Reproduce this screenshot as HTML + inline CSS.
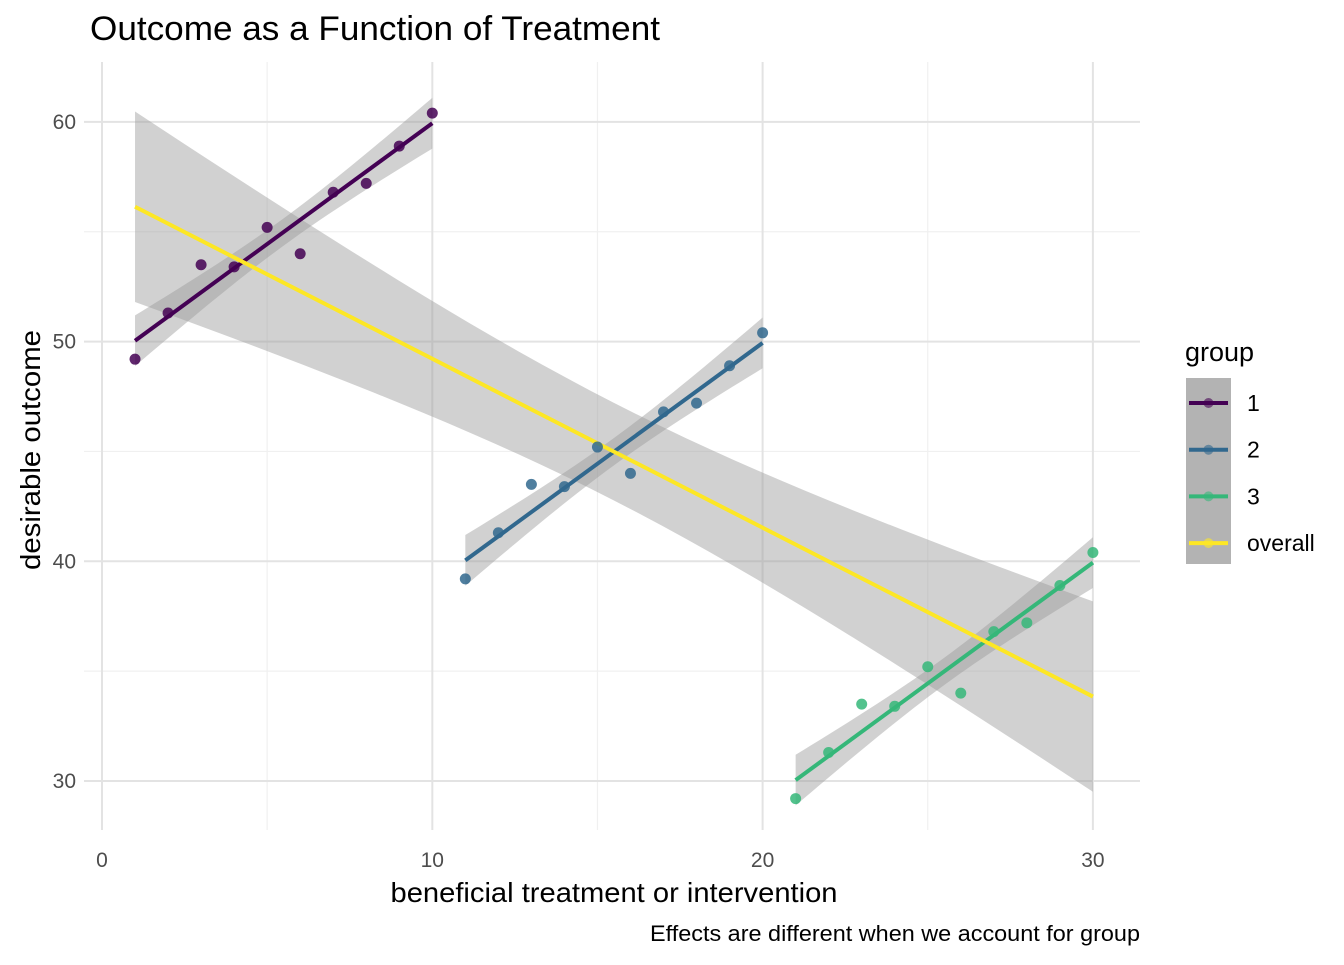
<!DOCTYPE html>
<html><head><meta charset="utf-8"><style>
html,body{margin:0;padding:0;background:#fff;}
svg text{font-family:"Liberation Sans",Arial,sans-serif;}
</style></head><body>
<svg id="chart" width="1344" height="960" xmlns="http://www.w3.org/2000/svg">
<text x="90" y="40" font-size="34" fill="#000" textLength="570" lengthAdjust="spacingAndGlyphs">Outcome as a Function of Treatment</text>
<g id="grid"></g><g id="ribbons"></g><g id="lines"></g><g id="points"></g><g id="axes"></g>
<text x="614" y="902" font-size="28" text-anchor="middle" fill="#000" textLength="447" lengthAdjust="spacingAndGlyphs">beneficial treatment or intervention</text>
<text transform="translate(40,450) rotate(-90)" font-size="28" text-anchor="middle" fill="#000" textLength="240" lengthAdjust="spacingAndGlyphs">desirable outcome</text>
<text x="1140" y="941" font-size="22" text-anchor="end" fill="#000" textLength="490" lengthAdjust="spacingAndGlyphs">Effects are different when we account for group</text>
<g id="legend"></g>
</svg>
<script>
const xs1=[1,2,3,4,5,6,7,8,9,10];
const ys1=[49.2,51.3,53.5,53.4,55.2,54.0,56.8,57.2,58.9,60.4];
const xs2=[11,12,13,14,15,16,17,18,19,20];
const ys2=[39.2,41.3,43.5,43.4,45.2,44.0,46.8,47.2,48.9,50.4];
const xs3=[21,22,23,24,25,26,27,28,29,30];
const ys3=[29.2,31.3,33.5,33.4,35.2,34.0,36.8,37.2,38.9,40.4];
const groupNames=["1","2","3","overall"];
const groupColors=["#440154","#31688e","#35b779","#fde725"];
const xTicks=[0,10,20,30];
const yTicks=[30,40,50,60];
const xMinor=[5,15,25];
const yMinor=[35,45,55];

const NS="http://www.w3.org/2000/svg";
const X=v=>102+v*33.03;
const Y=v=>781-(v-30)*21.97;
const PL=84,PR=1140,PT=62,PB=830;
function mk(tag,attrs,parent){const e=document.createElementNS(NS,tag);for(const k in attrs)e.setAttribute(k,attrs[k]);parent.appendChild(e);return e;}
const G=id=>document.getElementById(id);

xMinor.forEach(v=>{const l=mk('line',{x1:X(v),x2:X(v),y1:PT,y2:PB,stroke:'#f0f0f0','stroke-width':1.2},G('grid'));
});
yMinor.forEach(v=>{const l=mk('line',{x1:PL,x2:PR,y1:Y(v),y2:Y(v),stroke:'#f0f0f0','stroke-width':1.2},G('grid'));
});
xTicks.forEach(v=>{const l=mk('line',{x1:X(v),x2:X(v),y1:PT,y2:PB,stroke:'#e3e3e3','stroke-width':2},G('grid'));

const t=mk('text',{x:X(v),y:PB+37,'font-size':21,'text-anchor':'middle',fill:'#4d4d4d'},G('axes'));t.textContent=v;
});
yTicks.forEach(v=>{const l=mk('line',{x1:PL,x2:PR,y1:Y(v),y2:Y(v),stroke:'#e3e3e3','stroke-width':2},G('grid'));

const t=mk('text',{x:76,y:Y(v)+7,'font-size':21,'text-anchor':'end',fill:'#4d4d4d'},G('axes'));t.textContent=v;
});

function fit(xs,ys,tcrit){const n=xs.length;const mx=xs.reduce((a,b)=>a+b)/n,my=ys.reduce((a,b)=>a+b)/n;
let sxx=0,sxy=0;xs.forEach((x,i)=>{sxx+=(x-mx)**2;sxy+=(x-mx)*(ys[i]-my);});const b=sxy/sxx,a=my-b*mx;
let sse=0;xs.forEach((x,i)=>{sse+=(ys[i]-a-b*x)**2;});const s=Math.sqrt(sse/(n-2));
return {a,b,se:x=>s*Math.sqrt(1/n+(x-mx)**2/sxx),t:tcrit,min:Math.min(...xs),max:Math.max(...xs)};}
function drawFit(f,color,name){const N=40;let up=[],lo=[];
for(let i=0;i<=N;i++){const x=f.min+(f.max-f.min)*i/N;const yh=f.a+f.b*x,d=f.t*f.se(x);up.push(X(x)+','+Y(yh+d));lo.unshift(X(x)+','+Y(yh-d));}
const r=mk('polygon',{points:up.concat(lo).join(' '),fill:'#999','fill-opacity':0.45},G('ribbons'));

const l=mk('line',{x1:X(f.min),y1:Y(f.a+f.b*f.min),x2:X(f.max),y2:Y(f.a+f.b*f.max),stroke:color,'stroke-width':4},G('lines'));
}
const all=[[xs1,ys1],[xs2,ys2],[xs3,ys3]];
drawFit(fit(xs1,ys1,2.306),groupColors[0],'group-1');
drawFit(fit(xs2,ys2,2.306),groupColors[1],'group-2');
drawFit(fit(xs3,ys3,2.306),groupColors[2],'group-3');
drawFit(fit(xs1.concat(xs2,xs3),ys1.concat(ys2,ys3),2.048),groupColors[3],'overall');
all.forEach((d,g)=>d[0].forEach((x,i)=>{const c=mk('circle',{cx:X(x),cy:Y(d[1][i]),r:5.5,fill:groupColors[g],'fill-opacity':0.85},G('points'));
}));

const lg=G('legend');
const tt=mk('text',{x:1185,y:361,'font-size':27,fill:'#000'},lg);tt.textContent='group';

const bg=mk('rect',{x:1186,y:378,width:45,height:186,fill:'#b3b3b3'},lg);

groupNames.forEach((n,i)=>{const y=403+i*46.7;
const l=mk('line',{x1:1189,x2:1228,y1:y,y2:y,stroke:groupColors[i],'stroke-width':4},lg);

const c=mk('circle',{cx:1208.5,cy:y,r:5,fill:groupColors[i],'fill-opacity':0.6},lg);

const t=mk('text',{x:1247,y:y+8,'font-size':23,fill:'#000'},lg);t.textContent=n;
});
</script>
</body></html>
